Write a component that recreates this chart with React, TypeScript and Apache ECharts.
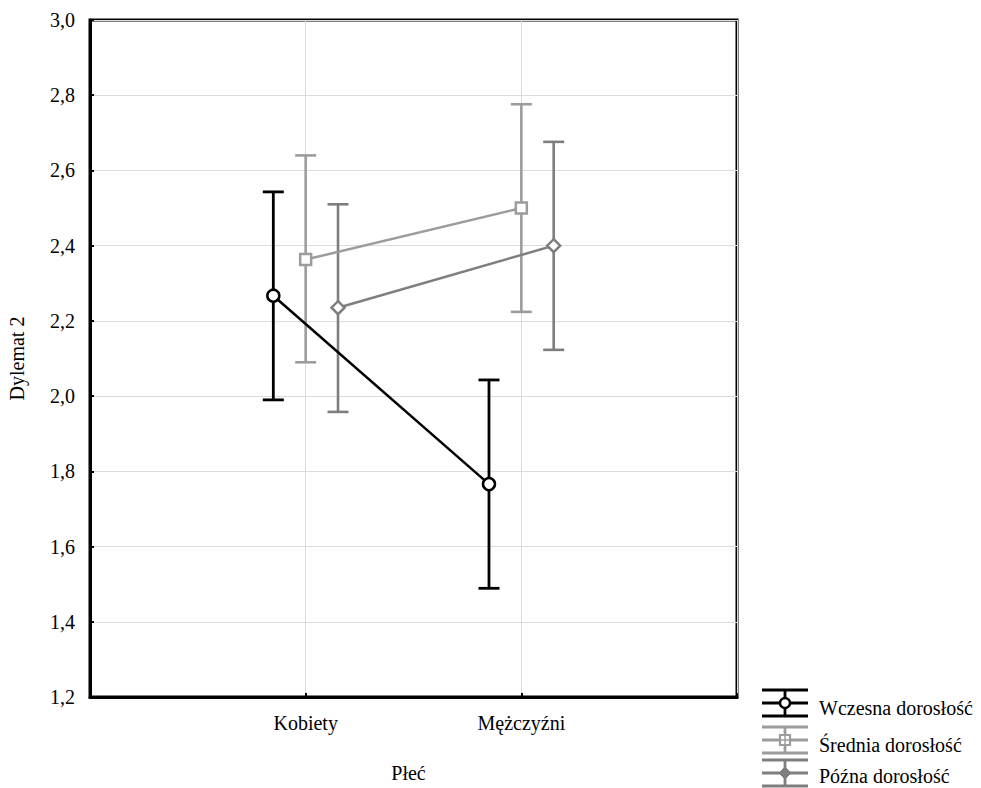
import React, { useEffect, useRef } from "react";
import * as echarts from "echarts";

const categories = ["Kobiety", "Mężczyźni"];
const seriesNames = ["Wczesna dorosłość", "Średnia dorosłość", "Późna dorosłość"];
const means = [
  [2.267, 1.766],
  [2.363, 2.5],
  [2.235, 2.4],
];
const lows = [
  [1.99, 1.489],
  [2.09, 2.224],
  [1.958, 2.123],
];
const highs = [
  [2.543, 2.043],
  [2.64, 2.776],
  [2.51, 2.676],
];
const yTicks = [1.2, 1.4, 1.6, 1.8, 2.0, 2.2, 2.4, 2.6, 2.8, 3.0];

const colors = ["#000000", "#9c9c9c", "#7e7e7e"];
const symbols = ["circle", "rect", "diamond"];
const offsets = [-0.15, 0, 0.15];
const FONT = "Liberation Serif";

export default function App() {
  const ref = useRef<HTMLDivElement>(null);
  useEffect(() => {
    document.body.style.margin = "0";
    const chart = echarts.init(ref.current!, null, { renderer: "svg" });

    const series: any[] = [];
    seriesNames.forEach((name, s) => {
      const errData = categories.map((_, i) => [i + 1 + offsets[s], lows[s][i], highs[s][i]]);
      series.push({
        type: "custom",
        name: name + " err",
        z: 2,
        data: errData,
        renderItem: (params: any, api: any) => {
          const x = api.value(0);
          const lo = api.coord([x, api.value(1)]);
          const hi = api.coord([x, api.value(2)]);
          const half = 10.5;
          const style = { stroke: colors[s], lineWidth: s === 0 ? 2.8 : 2.6 };
          return {
            type: "group",
            children: [
              { type: "line", shape: { x1: lo[0], y1: lo[1], x2: hi[0], y2: hi[1] }, style },
              { type: "line", shape: { x1: lo[0] - half, y1: lo[1], x2: lo[0] + half, y2: lo[1] }, style },
              { type: "line", shape: { x1: hi[0] - half, y1: hi[1], x2: hi[0] + half, y2: hi[1] }, style },
            ],
          };
        },
      });
      series.push({
        type: "line",
        name,
        z: 3,
        data: categories.map((_, i) => [i + 1 + offsets[s], means[s][i]]),
        symbol: symbols[s],
        symbolSize: s === 0 ? 12 : s === 1 ? 11 : 13,
        showAllSymbol: true,
        lineStyle: { color: colors[s], width: 2.5 },
        itemStyle: { color: "#ffffff", borderColor: colors[s], borderWidth: 2.5 },
      });
    });

    const legendX = 762;
    const legendW = 46;
    const legendCY = [703, 740, 773];
    const legendTY = [708, 745, 776];
    const graphics: any[] = [];
    seriesNames.forEach((name, s) => {
      const cy = legendCY[s];
      const cx = legendX + legendW / 2;
      const st = { stroke: colors[s], lineWidth: 2.8 };
      const children: any[] = [
        { type: "line", shape: { x1: legendX, y1: cy - 13, x2: legendX + legendW, y2: cy - 13 }, style: st },
        { type: "line", shape: { x1: legendX, y1: cy, x2: legendX + legendW, y2: cy }, style: st },
        { type: "line", shape: { x1: legendX, y1: cy + 13, x2: legendX + legendW, y2: cy + 13 }, style: st },
        { type: "line", shape: { x1: cx, y1: cy - 13, x2: cx, y2: cy + 13 }, style: st },
      ];
      if (s === 0) {
        children.push({ type: "circle", shape: { cx, cy, r: 5 }, style: { fill: "#fff", stroke: colors[s], lineWidth: 2.4 } });
      } else if (s === 1) {
        children.push({ type: "rect", shape: { x: cx - 5, y: cy - 5, width: 10, height: 10 }, style: { fill: "#fff", stroke: colors[s], lineWidth: 2.2 } });
        children.push({ type: "line", shape: { x1: cx - 5, y1: cy, x2: cx + 5, y2: cy }, style: { stroke: colors[s], lineWidth: 1.5 } });
        children.push({ type: "line", shape: { x1: cx, y1: cy - 5, x2: cx, y2: cy + 5 }, style: { stroke: colors[s], lineWidth: 1.5 } });
      } else {
        children.push({ type: "polygon", shape: { points: [[cx, cy - 6], [cx + 6, cy], [cx, cy + 6], [cx - 6, cy]] }, style: { fill: colors[s], stroke: colors[s], lineWidth: 1 } });
      }
      children.push({
        type: "text",
        x: 819,
        y: legendTY[s],
        style: { text: name, fontFamily: FONT, fontSize: 20, fill: "#000", verticalAlign: "middle" },
      });
      graphics.push({ type: "group", children });
    });

    chart.setOption({
      animation: false,
      backgroundColor: "#ffffff",
      grid: {
        left: 90, top: 20, width: 647, height: 677,
        outerBoundsMode: "none",
        containLabel: false,
        show: true, borderColor: "#000", borderWidth: 3, backgroundColor: "transparent",
      },
      xAxis: {
        type: "value",
        min: 0,
        max: 3,
        interval: 1,
        name: "Płeć",
        nameLocation: "middle",
        nameGap: 66,
        nameTextStyle: { fontFamily: FONT, fontSize: 20, color: "#000", padding: [0, 10, 0, 0] },
        axisLine: { show: true, lineStyle: { color: "#000", width: 3 } },
        axisTick: { show: true, inside: true, length: 4, lineStyle: { color: "#000", width: 2 } },
        axisLabel: {
          margin: 16,
          fontFamily: FONT,
          fontSize: 20,
          color: "#000",
          formatter: (v: number) => (v >= 1 && v <= categories.length ? categories[v - 1] : ""),
        },
        splitLine: { show: true, lineStyle: { color: "#dcdcdc", width: 1 } },
      },
      yAxis: {
        type: "value",
        min: yTicks[0],
        max: yTicks[yTicks.length - 1],
        interval: 0.2,
        name: "Dylemat 2",
        nameLocation: "middle",
        nameGap: 63,
        nameTextStyle: { fontFamily: FONT, fontSize: 20, color: "#000" },
        axisLine: { show: true, lineStyle: { color: "#000", width: 3 } },
        axisTick: { show: true, inside: true, length: 4, lineStyle: { color: "#000", width: 2 } },
        axisLabel: {
          margin: 15,
          fontFamily: FONT,
          fontSize: 20,
          color: "#000",
          formatter: (v: number) => v.toFixed(1).replace(".", ","),
        },
        splitLine: { show: true, lineStyle: { color: "#dcdcdc", width: 1 } },
      },
      series,
      graphic: graphics,
    });
    return () => chart.dispose();
  }, []);
  return <div ref={ref} style={{ position: "fixed", left: 0, top: 0, width: 981, height: 788 }} />;
}
